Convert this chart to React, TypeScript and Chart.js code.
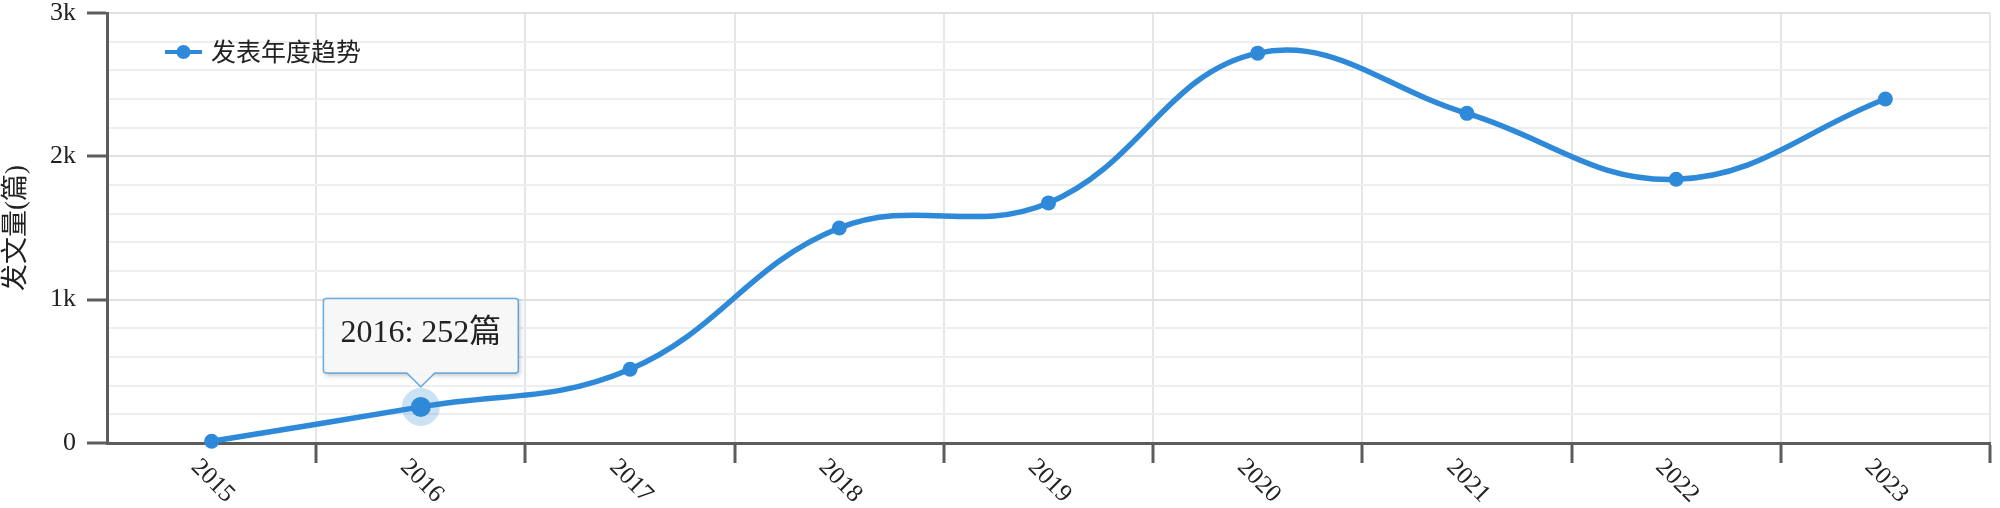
import React, { useEffect, useRef } from 'react';
import { Chart, registerables } from 'chart.js';

Chart.register(...registerables);

// ---- data ----
const years = ['2015', '2016', '2017', '2018', '2019', '2020', '2021', '2022', '2023'];
const counts = [12, 252, 515, 1500, 1675, 2720, 2300, 1840, 2400];
const yMajorLabels = ['0', '1k', '2k', '3k'];
const seriesName = '发表年度趋势';
const yTitle = '发文量(篇)';
const unit = '篇';
const highlightIndex = 1;

// ---- style ----
const BLUE = '#2e8ad8';
const AXIS = '#5c5c5c';
const TEXT = '#222222';
const SERIF = "'Liberation Serif', 'Noto Sans CJK SC', serif";
const CJK = "'Noto Sans CJK SC', sans-serif";

const legendPlugin = {
  id: 'insideLegend',
  afterDatasetsDraw(chart: any) {
    const { ctx, chartArea } = chart;
    const cy = chartArea.top + 39;
    const x0 = chartArea.left + 58;
    ctx.save();
    ctx.strokeStyle = BLUE;
    ctx.lineWidth = 4;
    ctx.beginPath();
    ctx.moveTo(x0, cy);
    ctx.lineTo(x0 + 37, cy);
    ctx.stroke();
    ctx.fillStyle = BLUE;
    ctx.beginPath();
    ctx.arc(x0 + 18.5, cy, 7, 0, Math.PI * 2);
    ctx.fill();
    ctx.fillStyle = TEXT;
    ctx.font = `25px ${CJK}`;
    ctx.textAlign = 'left';
    ctx.textBaseline = 'middle';
    ctx.fillText(chart.data.datasets[0].label, x0 + 46, cy - 1);
    ctx.restore();
  },
};

const xLabelsPlugin = {
  id: 'rotatedXLabels',
  afterDraw(chart: any) {
    const { ctx } = chart;
    const xs = chart.scales.x;
    const labels = chart.data.labels as string[];
    ctx.save();
    ctx.fillStyle = TEXT;
    ctx.font = `25px ${SERIF}`;
    ctx.textAlign = 'center';
    ctx.textBaseline = 'middle';
    labels.forEach((lab, i) => {
      const x = xs.getPixelForTick(i) + 1;
      const y = xs.top + 38;
      ctx.save();
      ctx.translate(x, y);
      ctx.rotate(Math.PI / 4);
      ctx.fillText(lab, 0, 0);
      ctx.restore();
    });
    ctx.restore();
  },
};

const tooltipShadowPlugin = {
  id: 'tooltipShadow',
  beforeTooltipDraw(chart: any, args: any) {
    const tt = args.tooltip;
    if (!tt || !tt.opacity) return;
    const ctx = chart.ctx;
    ctx.save();
    ctx.shadowColor = 'rgba(0,0,0,0.28)';
    ctx.shadowBlur = 5;
    ctx.shadowOffsetX = 2;
    ctx.shadowOffsetY = 2;
    ctx.fillStyle = '#f7f7f7';
    ctx.fillRect(tt.x, tt.y, tt.width, tt.height);
    ctx.restore();
  },
};

export default function App() {
  const canvasRef = useRef<HTMLCanvasElement | null>(null);

  useEffect(() => {
    document.body.style.margin = '0';
    const canvas = canvasRef.current;
    if (!canvas) return;

    const chart = new Chart(canvas, {
      type: 'line',
      data: {
        labels: years,
        datasets: [
          {
            label: seriesName,
            data: counts,
            borderColor: BLUE,
            backgroundColor: BLUE,
            borderWidth: 5.5,
            tension: 0.4,
            pointRadius: 7.5,
            pointBackgroundColor: BLUE,
            pointBorderWidth: 0,
            pointHoverRadius: 10,
            pointHoverBorderWidth: 18,
            pointHoverBorderColor: 'rgba(46,138,216,0.25)',
            pointHoverBackgroundColor: BLUE,
            clip: false as any,
          },
        ],
      },
      options: {
        responsive: false,
        animation: false,
        events: [],
        layout: { padding: { top: 13, right: 8, left: 0, bottom: 0 } },
        plugins: {
          legend: { display: false },
          tooltip: {
            enabled: true,
            yAlign: 'bottom',
            xAlign: 'center',
            displayColors: false,
            backgroundColor: 'rgba(247,247,247,0.96)',
            borderColor: 'rgba(46,138,216,0.7)',
            borderWidth: 1.5,
            cornerRadius: 3,
            caretSize: 14,
            caretPadding: 20,
            padding: { top: 16, bottom: 20, left: 17, right: 17 },
            bodyColor: TEXT,
            bodyFont: { family: SERIF, size: 32, lineHeight: 1.2 },
            callbacks: {
              title: () => '',
              label: (c: any) => `${c.label}: ${c.parsed.y}${unit}`,
            },
          },
        },
        scales: {
          x: {
            type: 'category',
            offset: true,
            grid: {
              offset: true,
              color: '#e6e6e6',
              lineWidth: 2,
              drawTicks: true,
              tickLength: 20,
              tickWidth: 3,
              tickColor: (c: any) => (c.index === 0 ? 'rgba(0,0,0,0)' : AXIS),
            },
            border: { color: AXIS, width: 3 },
            ticks: { display: false },
            afterFit: (s: any) => {
              s.height = 65;
              s.paddingLeft = 0;
              s.paddingRight = 0;
            },
          },
          y: {
            min: 0,
            max: 3000,
            grid: {
              color: (c: any) => (c.tick && c.tick.value % 1000 === 0 ? '#e0e0e0' : '#eeeeee'),
              lineWidth: 2,
              drawTicks: true,
              tickLength: 20,
              tickWidth: 3,
              tickColor: (c: any) => (c.tick && c.tick.value % 1000 === 0 ? AXIS : 'rgba(0,0,0,0)'),
            },
            border: { color: AXIS, width: 3 },
            ticks: {
              stepSize: 200,
              autoSkip: false,
              padding: 11,
              color: TEXT,
              font: { family: SERIF, size: 26, lineHeight: 1 },
              callback: (v: any) => {
                const n = Number(v);
                return n % 1000 === 0 ? yMajorLabels[n / 1000] : '';
              },
            },
            title: {
              display: true,
              text: yTitle,
              color: TEXT,
              font: { family: SERIF, size: 27 },
              padding: { top: 1, bottom: 0 },
            },
            afterFit: (s: any) => {
              s.width = 107;
              s.paddingTop = 0;
              s.paddingBottom = 0;
            },
          },
        },
      },
      plugins: [legendPlugin, xLabelsPlugin, tooltipShadowPlugin],
    });

    const active = [{ datasetIndex: 0, index: highlightIndex }];
    chart.setActiveElements(active);
    const el: any = chart.getDatasetMeta(0).data[highlightIndex];
    chart.tooltip?.setActiveElements(active, { x: el.x, y: el.y });
    chart.update();

    return () => {
      chart.destroy();
    };
  }, []);

  return (
    <div style={{ width: 2000, height: 508, background: '#ffffff' }}>
      <canvas ref={canvasRef} width={2000} height={508} style={{ display: 'block' }} />
    </div>
  );
}
